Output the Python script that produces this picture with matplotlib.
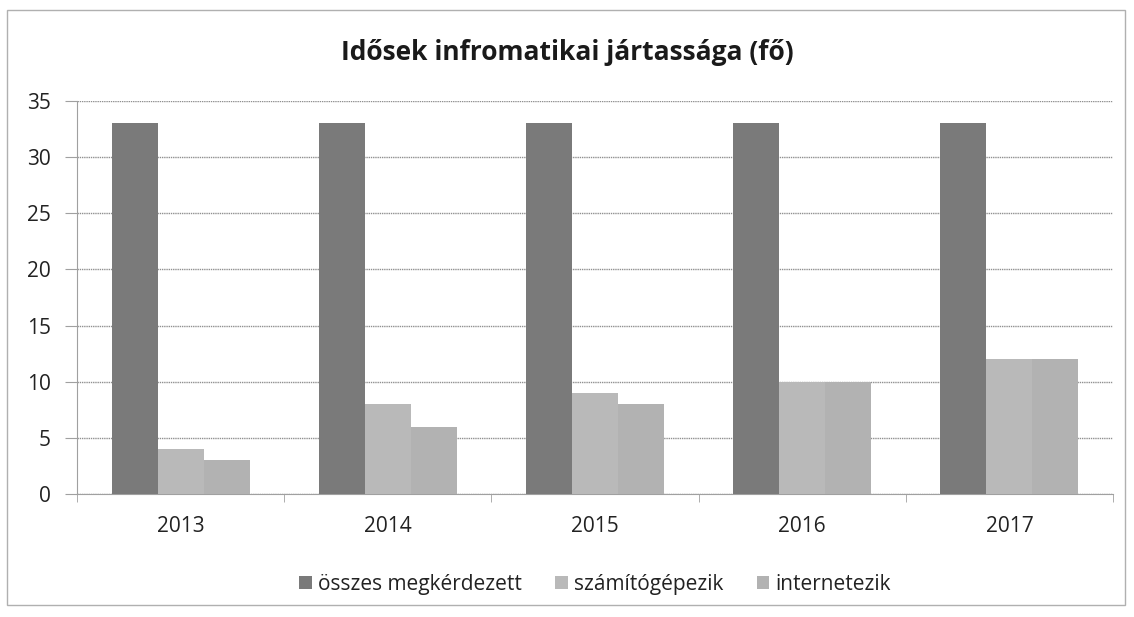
import matplotlib

matplotlib.use("Agg")
import matplotlib.pyplot as plt
from matplotlib.patches import Rectangle
import numpy as np

# Adatok
years = ["2013", "2014", "2015", "2016", "2017"]
osszes = [33, 33, 33, 33, 33]
szamitogepezik = [4, 8, 9, 10, 12]
internetezik = [3, 6, 8, 10, 12]
series_names = ["összes megkérdezett", "számítógépezik", "internetezik"]
colors = ["#7a7a7a", "#b9b9b9", "#b2b2b2"]

plt.rcParams["font.family"] = ["Open Sans", "DejaVu Sans"]

fig = plt.figure(figsize=(11.34, 6.17), dpi=100)
ax = fig.add_axes([0.0679, 0.1994, 0.9136, 0.6369])

x = np.arange(len(years))
w = 0.222
for i, (vals, name, col) in enumerate(zip([osszes, szamitogepezik, internetezik], series_names, colors)):
    ax.bar(x + (i - 1) * w, vals, width=w, color=col, label=name, zorder=3)

ax.set_xlim(-0.5, len(years) - 0.5)
ax.set_ylim(0, 35)
ax.set_yticks(range(0, 36, 5))
ax.set_xticks(x)
ax.set_xticklabels(years)
ax.set_xticks(np.arange(-0.5, len(years)), minor=True)

ax.grid(axis="y", color="#909090", linewidth=1.0, linestyle=(0, (1, 0.6)), zorder=0)
for side in ("top", "right"):
    ax.spines[side].set_visible(False)
ax.spines["left"].set_color("#a0a0a0")
ax.spines["bottom"].set_color("#a0a0a0")
ax.tick_params(axis="y", length=9, color="#a0a0a0", labelsize=15, pad=10, labelcolor="#222222")
ax.tick_params(axis="x", which="major", length=0, labelsize=15, pad=16, labelcolor="#222222")
ax.tick_params(axis="x", which="minor", length=6, color="#a0a0a0")

fig.text(0.5, 0.915, "Idősek infromatikai jártassága (fő)", ha="center", va="center",
         fontsize=19, fontweight="bold", color="#1a1a1a")

ax.legend(loc="center", bbox_to_anchor=(0.5, -0.23), ncol=3, frameon=False,
          fontsize=15, handlelength=0.6, handleheight=0.6, handletextpad=0.3,
          columnspacing=1.6, labelcolor="#222222")

# keret
fig.patches.append(Rectangle((0.006, 0.02), 0.986, 0.963, transform=fig.transFigure,
                             fill=False, edgecolor="#b0b0b0", linewidth=1.0))

fig.savefig("out.png", dpi=100)
